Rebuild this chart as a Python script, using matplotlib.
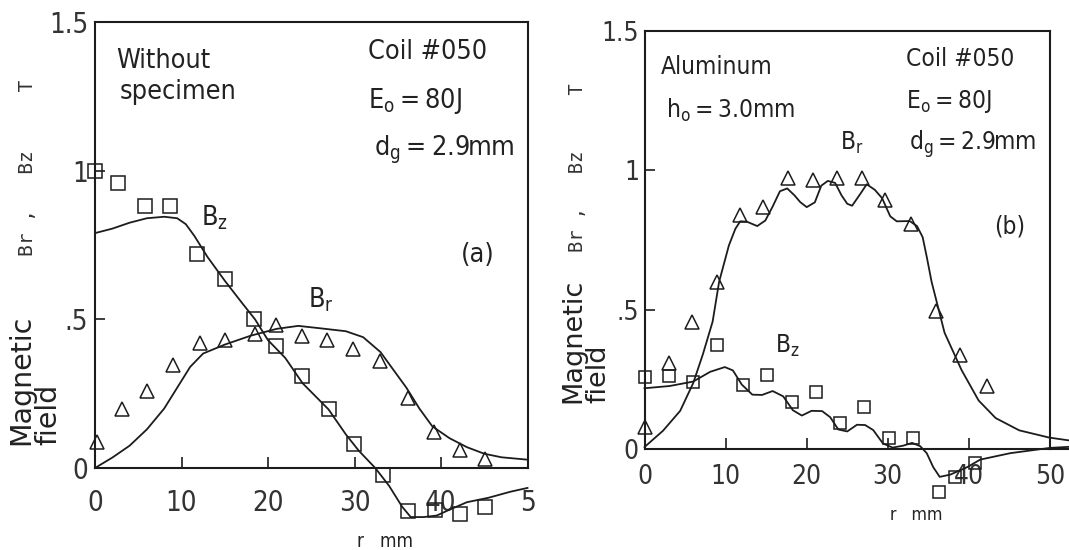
import matplotlib
matplotlib.use('Agg')
import matplotlib.pyplot as plt
from matplotlib import font_manager as fm

names = {f.name for f in fm.fontManager.ttflist}
dv_cond = any(f.name == 'DejaVu Sans' and 'condensed' in f.fname.lower()
              for f in fm.fontManager.ttflist)
if 'Liberation Sans Narrow' in names:
    FAM, STRETCH, SC = 'Liberation Sans Narrow', 'normal', 1.0
elif dv_cond:
    FAM, STRETCH, SC = 'DejaVu Sans', 'condensed', 0.9
elif 'Roboto Condensed' in names:
    FAM, STRETCH, SC = 'Roboto Condensed', 'normal', 0.95
else:
    FAM, STRETCH, SC = 'DejaVu Sans', 'normal', 0.8

plt.rcParams['font.family'] = [FAM, 'DejaVu Sans']
plt.rcParams['font.stretch'] = STRETCH
plt.rcParams['mathtext.fontset'] = 'custom'
plt.rcParams['mathtext.rm'] = FAM
plt.rcParams['mathtext.it'] = FAM

# ---------------- data : panel (a) without specimen ----------------
a_sq_r = [0, 2.7, 5.8, 8.7, 11.8, 15.0, 18.4, 20.9, 23.9, 27.0, 29.9, 33.3, 36.2, 39.3, 42.2, 45.1]
a_sq_Bz = [1.0, 0.96, 0.88, 0.88, 0.72, 0.635, 0.50, 0.41, 0.31, 0.20, 0.08, -0.025, -0.145, -0.14, -0.155, -0.13]
a_tri_r = [0.2, 3.1, 6.0, 9.0, 12.1, 15.0, 18.5, 20.9, 23.9, 26.8, 29.8, 33.0, 36.2, 39.2, 42.2, 45.1]
a_tri_Br = [0.087, 0.20, 0.26, 0.345, 0.42, 0.43, 0.45, 0.48, 0.445, 0.43, 0.40, 0.36, 0.235, 0.12, 0.061, 0.03]

a_curve_r_Bz = [0, 2, 4, 6, 8, 9.5, 10.5, 11.5, 13, 15, 17, 18.5, 20, 22, 24, 27, 29, 30.5, 32.4,
                34, 35.5, 36.5, 38, 39.5, 41, 43, 45.5, 48, 50]
a_curve_Bz = [0.79, 0.805, 0.825, 0.84, 0.845, 0.84, 0.82, 0.78, 0.71, 0.63, 0.555, 0.50, 0.43, 0.37,
              0.285, 0.197, 0.113, 0.058, 0.0, -0.06, -0.13, -0.165, -0.165, -0.16, -0.14, -0.115,
              -0.10, -0.08, -0.067]
a_curve_r_Br = [0, 2, 4, 6, 8, 9.5, 11, 12.5, 15, 18, 21, 23.5, 26, 29, 31, 33, 34.5, 36, 37.5, 39,
                41, 43, 45, 47, 50]
a_curve_Br = [0, 0.035, 0.075, 0.13, 0.2, 0.27, 0.34, 0.385, 0.415, 0.445, 0.468, 0.478, 0.47, 0.46,
              0.44, 0.39, 0.33, 0.27, 0.2, 0.14, 0.1, 0.07, 0.048, 0.036, 0.028]

# ---------------- data : panel (b) aluminum ----------------
b_sq_r = [0, 3, 6, 8.9, 12.1, 15.1, 18.2, 21.1, 24.1, 27.1, 30.1, 33.1, 36.3, 38.3, 40.8]
b_sq_Bz = [0.257, 0.262, 0.242, 0.373, 0.231, 0.265, 0.170, 0.204, 0.095, 0.150, 0.038, 0.039,
           -0.155, -0.102, -0.051]
b_tri_r = [0, 3, 5.8, 8.9, 11.8, 14.6, 17.7, 20.8, 23.7, 26.8, 29.6, 32.9, 36.0, 38.9, 42.2]
b_tri_Br = [0.079, 0.309, 0.457, 0.598, 0.839, 0.869, 0.974, 0.965, 0.974, 0.972, 0.895, 0.808,
            0.496, 0.337, 0.227]

b_curve_r_Br = [0, 2.3, 4.4, 6.0, 7.2, 8.4, 9.2, 10.4, 11.2, 11.8, 12.6, 13.9, 14.9, 15.8, 16.7, 17.6,
                18.5, 19.2, 20.0, 21.0, 21.8, 22.6, 23.5, 24.3, 25.0, 25.6, 26.6, 27.4, 28.4, 29.3,
                30.3, 31.1, 32.7, 33.6, 34.3, 34.8, 35.4, 37.0, 39.1, 41.2, 43.3, 46.2, 49.9, 52.3]
b_curve_Br = [0.007, 0.066, 0.137, 0.236, 0.34, 0.457, 0.6, 0.73, 0.79, 0.817, 0.816, 0.80, 0.82,
              0.87, 0.925, 0.935, 0.91, 0.886, 0.868, 0.885, 0.945, 0.962, 0.955, 0.91, 0.88, 0.873,
              0.915, 0.95, 0.93, 0.90, 0.835, 0.817, 0.818, 0.80, 0.76, 0.69, 0.60, 0.417, 0.283,
              0.174, 0.111, 0.067, 0.041, 0.031]
b_curve_r_Bz = [0, 3.1, 6.0, 8.1, 9.9, 10.9, 12.0, 13.3, 14.5, 15.8, 17.1, 18.3, 19.4, 20.6, 21.9,
                22.9, 23.9, 25.0, 26.2, 27.2, 28.2, 29.4, 30.6, 31.9, 33.0, 34.0, 34.8, 35.6, 36.4,
                37.7, 39.8, 41.4, 45.1, 50.0, 52.5]
b_curve_Bz = [0.218, 0.226, 0.242, 0.277, 0.294, 0.282, 0.231, 0.195, 0.194, 0.208, 0.189, 0.139,
              0.12, 0.137, 0.136, 0.114, 0.07, 0.063, 0.087, 0.086, 0.068, 0.02, 0.005, 0.012, 0.022,
              0.01, -0.015, -0.065, -0.10, -0.092, -0.065, -0.038, -0.015, 0.004, 0.008]

x_ticks = [0, 10, 20, 30, 40, 50]
a_xtick_labels = ['0', '10', '20', '30', '40', '5']
b_xtick_labels = ['0', '10', '20', '30', '40', '50']
y_ticks = [0, 0.5, 1.0, 1.5]
y_tick_labels = ['0', '.5', '1', '1.5']

INK = '#1c1c1c'
TC = '#222222'
TS = '\u2009'  # thin space

fig = plt.figure(figsize=(10.69, 5.5), dpi=100)
W, H = 1069.0, 550.0
axA = fig.add_axes([95 / W, 82 / H, 432.5 / W, 446 / H])
axB = fig.add_axes([644.5 / W, 101 / H, 405.5 / W, 418 / H])


def style(ax, xlabels, fs, xpad, ypad):
    ax.set_xlim(0, 50)
    ax.set_ylim(0, 1.5)
    for s in ax.spines.values():
        s.set_color(INK)
        s.set_linewidth(1.5)
    ax.set_xticks(x_ticks)
    ax.set_xticklabels(xlabels)
    ax.set_yticks(y_ticks)
    ax.set_yticklabels(y_tick_labels)
    ax.tick_params(axis='x', direction='in', length=8, width=1.2, color=INK, pad=xpad,
                   labelsize=fs, labelcolor='#333333')
    ax.tick_params(axis='y', direction='in', length=7, width=1.2, color=INK, pad=ypad,
                   labelsize=fs, labelcolor='#333333')
    ax.set_facecolor('white')


style(axA, a_xtick_labels, 22 * SC, 15, 5)
style(axB, b_xtick_labels, 21 * SC, 11, 4)

lkw = dict(color=INK, lw=1.3, clip_on=False, zorder=3)
mkw = dict(ls='none', mfc='none', mec=INK, mew=1.1, clip_on=False, zorder=4)

axA.plot(a_curve_r_Bz, a_curve_Bz, **lkw)
axA.plot(a_curve_r_Br, a_curve_Br, **lkw)
axA.plot(a_sq_r, a_sq_Bz, marker='s', ms=9.5, **mkw)
axA.plot(a_tri_r, a_tri_Br, marker='^', ms=10, **mkw)

axB.plot(b_curve_r_Br, b_curve_Br, **lkw)
axB.plot(b_curve_r_Bz, b_curve_Bz, **lkw)
axB.plot(b_sq_r, b_sq_Bz, marker='s', ms=9, **mkw)
axB.plot(b_tri_r, b_tri_Br, marker='^', ms=9.5, **mkw)
# zero line continues past the right frame in panel (b)
axB.plot([axB.get_xlim()[1], max(b_curve_r_Bz)], [0, 0], color=INK, lw=1.5, clip_on=False, zorder=3)

# ---------------- annotations ----------------
fa = 21.5 * SC
fb = 19.5 * SC
eq = TS + '=' + TS
axA.text(2.5, 1.345, 'Without', fontsize=fa, color=TC)
axA.text(2.9, 1.24, 'specimen', fontsize=fa, color=TC)
axA.text(31.6, 1.374, 'Coil #050', fontsize=fa, color=TC)
axA.text(31.6, 1.212, r'E$_\mathrm{o}$' + eq + '80J', fontsize=fa, color=TC)
axA.text(32.2, 1.05, r'd$_\mathrm{g}$' + eq + '2.9mm', fontsize=fa, color=TC)
axA.text(44.3, 0.715, '(a)', fontsize=fa, color=TC, ha='center', va='center')
axA.text(12.3, 0.842, r'B$_\mathrm{z}$', fontsize=fa, color=TC, va='center')
axA.text(24.6, 0.567, r'B$_\mathrm{r}$', fontsize=fa, color=TC, va='center')
axA.text(0.67, -0.164, 'r   mm', transform=axA.transAxes, fontsize=15 * SC, color=TC,
         ha='center', va='center')

axB.text(2.0, 1.345, 'Aluminum', fontsize=fb, color=TC)
axB.text(2.7, 1.19, r'h$_\mathrm{o}$' + eq + '3.0mm', fontsize=fb, color=TC)
axB.text(32.2, 1.375, 'Coil #050', fontsize=fb, color=TC)
axB.text(32.2, 1.225, r'E$_\mathrm{o}$' + eq + '80J', fontsize=fb, color=TC)
axB.text(32.6, 1.073, r'd$_\mathrm{g}$' + eq + '2.9mm', fontsize=fb, color=TC)
axB.text(45.0, 0.80, '(b)', fontsize=fb, color=TC, ha='center', va='center')
axB.text(24.1, 1.097, r'B$_\mathrm{r}$', fontsize=fb, color=TC, va='center')
axB.text(16.1, 0.37, r'B$_\mathrm{z}$', fontsize=fb, color=TC, va='center')
axB.text(0.67, -0.158, 'r   mm', transform=axB.transAxes, fontsize=14 * SC, color=TC,
         ha='center', va='center')

# y-axis labels (rotated): "Magnetic / field" block and "Br , Bz  T" above it
for (xc, yb, yc_b, xb, fs_m, fs_b) in [
        (35, 445, 168, 28, 20.5, 14),
        (586, 403, 168, 577, 19.5, 13.5)]:
    fig.text(xc / W, 1 - yb / H, 'Magnetic\nfield', rotation=90, ha='center', va='bottom',
             multialignment='left', linespacing=0.98,
             fontsize=fs_m, family='DejaVu Sans', stretch='normal', color=TC)
    fig.text(xb / W, 1 - yc_b / H, 'Br ,   Bz     T', rotation=90, ha='center',
             va='center', fontsize=fs_b, family='DejaVu Sans Mono', stretch='normal',
             color='#333333')

fig.savefig('out.png', dpi=100, facecolor='white')
